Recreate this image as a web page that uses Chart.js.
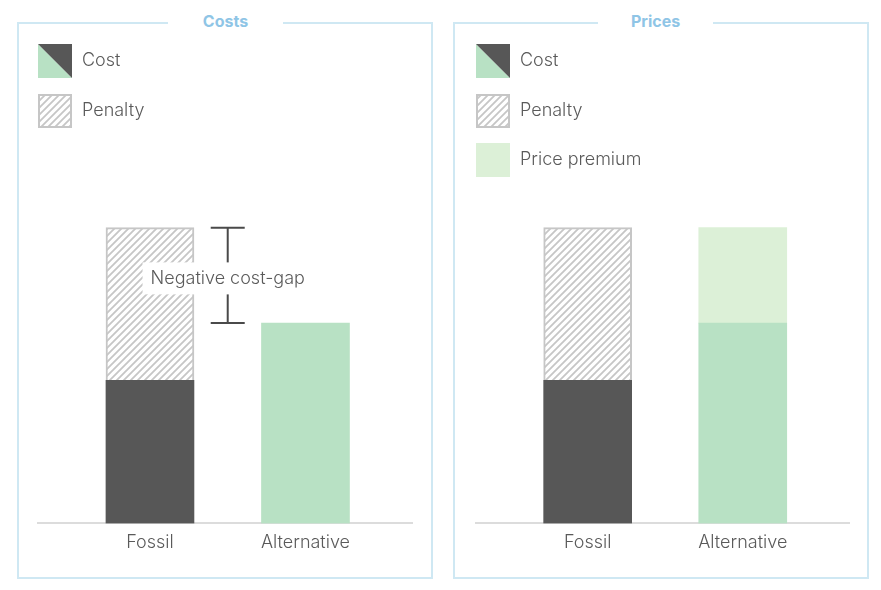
<!DOCTYPE html>
<html>
<head>
<meta charset="utf-8">
<script src="https://cdn.jsdelivr.net/npm/chart.js@4.4.0/dist/chart.umd.min.js"></script>
<style>
  html, body { margin: 0; padding: 0; background: #fff; }
  body { width: 881px; height: 590px; position: relative; overflow: hidden; font-family: Inter, "Noto Sans", sans-serif; }
  .box { position: absolute; top: 22px; width: 412px; height: 553px; border: 2px solid #cfe8f3; }
  .title { position: absolute; top: 10px; height: 22px; line-height: 22px; width: 115px; text-align: center;
           background: #fff; color: #8fc5e6; font-weight: 700; font-size: 16px; }
  .cv { position: absolute; top: 0; height: 590px; }
</style>
</head>
<body>
<div class="box" style="left:17px"></div>
<div class="box" style="left:453px"></div>
<div class="title" style="left:168px">Costs</div>
<div class="title" style="left:598px">Prices</div>
<div class="cv" style="left:0;width:443px"><canvas id="c1"></canvas></div>
<div class="cv" style="left:443px;width:438px"><canvas id="c2"></canvas></div>
<script>
// ---- data ----
const categories = ['Fossil', 'Alternative'];
const costValues = [30, 42];
const penaltyValues = [32, 0];
const premiumValues = [0, 20];
const yMax = 72;
const gapLabel = 'Negative cost-gap';
const leftLegend = ['Cost', 'Penalty'];
const rightLegend = ['Cost', 'Penalty', 'Price premium'];

// ---- styles ----
const DARK = '#575757', GREEN = '#b8e1c4', LIGHT = '#dcf0d7', HATCH = '#c6c6c6';
const FONT = '300 18px Inter, "Noto Sans", sans-serif';
const TEXT = '#5a5a5a';

function hatchPattern() {
  const c = document.createElement('canvas');
  c.width = 7; c.height = 7;
  const g = c.getContext('2d');
  g.fillStyle = '#fff'; g.fillRect(0, 0, 7, 7);
  g.strokeStyle = HATCH; g.lineWidth = 1.8;
  g.beginPath();
  g.moveTo(-1, 8); g.lineTo(8, -1);
  g.moveTo(-8, 8); g.lineTo(1, -1);
  g.moveTo(6, 8); g.lineTo(15, -1);
  g.stroke();
  return g.createPattern(c, 'repeat');
}

function pts(arr) {
  return arr.map((v, i) => v ? { x: i, y: v } : null).filter(Boolean);
}

function drawSwatch(ctx, kind, x, y, s) {
  if (kind === 'Cost') {
    ctx.fillStyle = GREEN; ctx.beginPath(); ctx.moveTo(x, y); ctx.lineTo(x + s, y + s); ctx.lineTo(x, y + s); ctx.closePath(); ctx.fill();
    ctx.fillStyle = DARK; ctx.beginPath(); ctx.moveTo(x, y); ctx.lineTo(x + s, y); ctx.lineTo(x + s, y + s); ctx.closePath(); ctx.fill();
  } else if (kind === 'Penalty') {
    ctx.fillStyle = hatchPattern(); ctx.fillRect(x, y, s, s);
    ctx.strokeStyle = HATCH; ctx.lineWidth = 2; ctx.strokeRect(x + 1, y + 1, s - 2, s - 2);
  } else {
    ctx.fillStyle = LIGHT; ctx.fillRect(x, y, s, s);
  }
}

const legendPlugin = {
  id: 'customLegend',
  afterDraw(chart, args, opts) {
    const ctx = chart.ctx;
    ctx.save();
    opts.items.forEach((name, i) => {
      const y = Math.round(44 + i * 49.5);
      drawSwatch(ctx, name, opts.x, y, 34);
      ctx.fillStyle = TEXT; ctx.font = FONT; ctx.textBaseline = 'middle'; ctx.textAlign = 'left';
      ctx.fillText(name, opts.x + 44, y + 17);
    });
    ctx.restore();
  }
};

const gapPlugin = {
  id: 'gapBracket',
  afterDatasetsDraw(chart, args, opts) {
    if (!opts.show) return;
    const ctx = chart.ctx, xs = chart.scales.x, ys = chart.scales.y;
    const x = xs.getPixelForValue(0.5);
    const yTop = ys.getPixelForValue(costValues[0] + penaltyValues[0]);
    const yBot = ys.getPixelForValue(costValues[1] + penaltyValues[1]);
    ctx.save();
    ctx.strokeStyle = '#4a4a4a'; ctx.lineWidth = 2;
    ctx.beginPath();
    ctx.moveTo(x, yTop); ctx.lineTo(x, yBot);
    ctx.moveTo(x - 17, yTop); ctx.lineTo(x + 17, yTop);
    ctx.moveTo(x - 17, yBot); ctx.lineTo(x + 17, yBot);
    ctx.stroke();
    ctx.font = FONT;
    const w = ctx.measureText(gapLabel).width;
    const ym = (yTop + yBot) / 2 + 3;
    ctx.fillStyle = '#fff';
    ctx.fillRect(x - w / 2 - 8, ym - 16, w + 16, 32);
    ctx.fillStyle = TEXT; ctx.textAlign = 'center'; ctx.textBaseline = 'middle';
    ctx.fillText(gapLabel, x, ym);
    ctx.restore();
  }
};

function makeChart(id, withPremium, padL, padR, legendX, legendItems, showGap) {
  const hatch = hatchPattern();
  const datasets = [
    { label: 'Cost', data: pts(costValues), backgroundColor: [DARK, GREEN], borderWidth: 0 },
    { label: 'Penalty', data: pts(penaltyValues), backgroundColor: hatch, borderColor: HATCH,
      borderWidth: { top: 2, left: 2, right: 2, bottom: 0 }, borderSkipped: 'bottom' }
  ];
  if (withPremium) datasets.push({ label: 'Price premium', data: pts(premiumValues), backgroundColor: LIGHT, borderWidth: 0 });
  return new Chart(document.getElementById(id), {
    type: 'bar',
    data: { datasets },
    options: {
      responsive: true, maintainAspectRatio: false, animation: false,
      layout: { padding: { left: padL, right: padR, top: 180, bottom: 37 } },
      barThickness: 88,
      plugins: { legend: { display: false }, tooltip: { enabled: false },
                 customLegend: { items: legendItems, x: legendX },
                 gapBracket: { show: showGap } },
      scales: {
        x: { type: 'linear', stacked: true, min: -0.72, max: 1.685, offset: false,
             grid: { display: false },
             border: { display: true, color: '#dcdcdc', width: 2 },
             afterBuildTicks: s => { s.ticks = s.ticks.filter(t => Number.isInteger(t.value) && t.value >= 0 && t.value < categories.length); },
             ticks: { stepSize: 1, autoSkip: false, maxRotation: 0, padding: 0,
                      color: TEXT, font: { family: 'Inter, "Noto Sans", sans-serif', size: 18, weight: 300 },
                      callback: v => categories[v] ?? '' } },
        y: { display: false, stacked: true, min: 0, max: yMax }
      }
    },
    plugins: [legendPlugin, gapPlugin]
  });
}

makeChart('c1', false, 38, 31, 38, leftLegend, true);
makeChart('c2', true, 33, 32, 33, rightLegend, false);
</script>
</body>
</html>
